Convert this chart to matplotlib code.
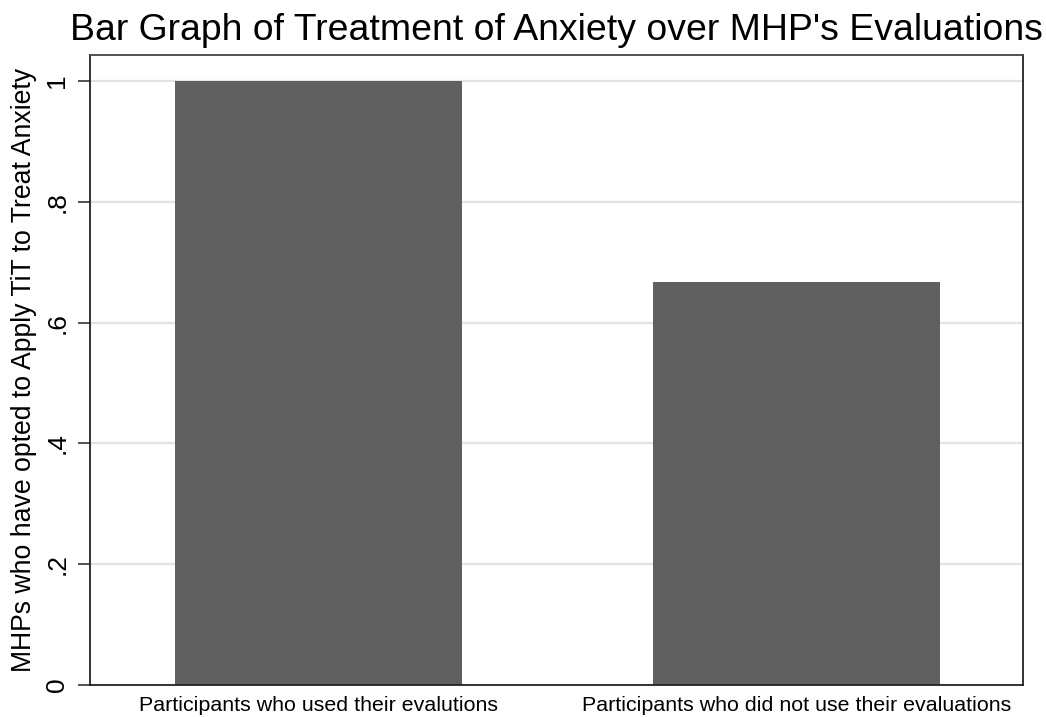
import matplotlib
matplotlib.use("Agg")
import matplotlib.pyplot as plt

categories = ["Participants who used their evalutions", "Participants who did not use their evaluations"]
values = [1.0, 0.667]
yticks = [0, 0.2, 0.4, 0.6, 0.8, 1.0]
ytick_labels = ["0", ".2", ".4", ".6", ".8", "1"]

plt.rcParams['font.family'] = ['Liberation Sans', 'DejaVu Sans']

fig = plt.figure(figsize=(10.46, 7.17), dpi=100)
W, H = 1046, 717
ax = fig.add_axes([90 / W, 1 - 685 / H, (1023 - 90) / W, (685 - 55) / H])

x = list(range(len(categories)))
ax.bar(x, values, width=0.6, color="#606060", zorder=2)
ax.set_xlim(-0.478, 1.474)
ax.set_ylim(0, 1.043)
ax.set_yticks(yticks)
ax.set_yticklabels(ytick_labels, rotation=90, va="center", fontsize=19)
ax.set_xticks(x)
ax.set_xticklabels(categories, fontsize=15.4)
ax.tick_params(axis="x", length=0, pad=8)
ax.tick_params(axis="y", length=9, width=1.2, color="#333333", pad=6)
ax.yaxis.grid(True, color="#e3e3e3", linewidth=1.6, zorder=0)
ax.set_axisbelow(True)
for s in ax.spines.values():
    s.set_linewidth(1.3)
    s.set_color("#222222")
ax.spines["top"].set_color("#444444")
ax.set_ylabel("MHPs who have opted to Apply TiT to Treat Anxiety", fontsize=19.2, labelpad=6)
fig.text((72 + 1040) / 2 / W, 1 - 30 / H, "Bar Graph of Treatment of Anxiety over MHP's Evaluations",
         ha="center", va="center", fontsize=26.9)
fig.savefig("out.png", dpi=100)
